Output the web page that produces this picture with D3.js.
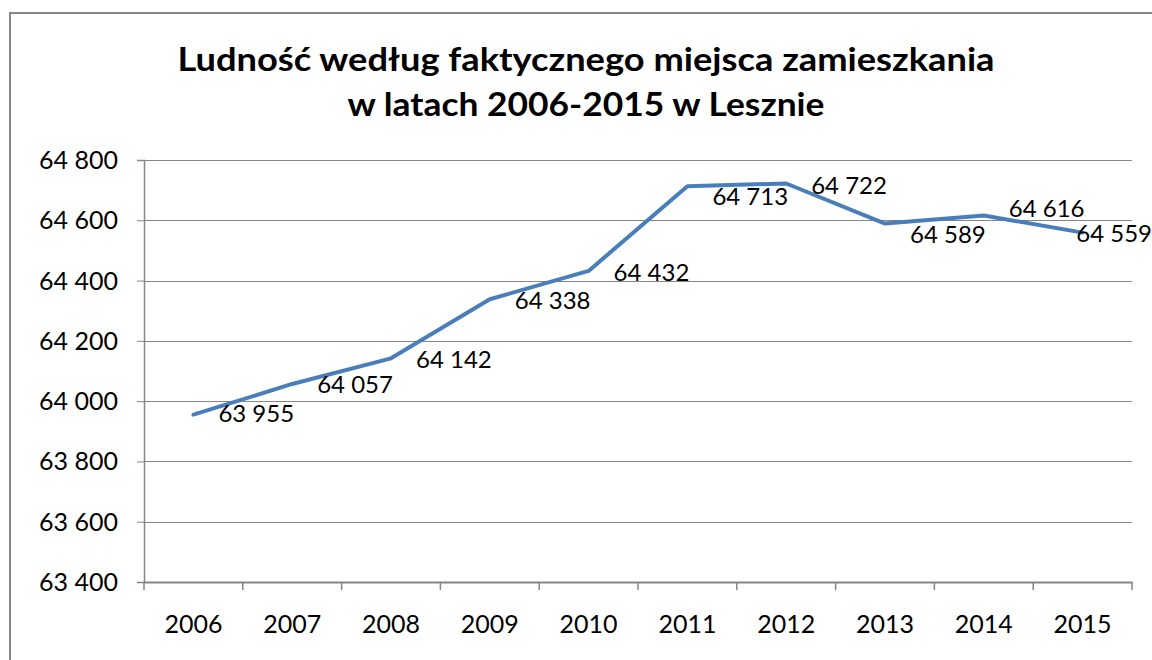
<!DOCTYPE html>
<html>
<head>
<meta charset="utf-8">
<script src="https://cdn.jsdelivr.net/npm/d3@7/dist/d3.min.js"></script>
<style>
  html, body { margin: 0; padding: 0; background: #fff; }
  svg { display: block; }
</style>
</head>
<body>
<svg id="chart" width="1152" height="660"></svg>
<script>
// ---- data ----
const years = ["2006","2007","2008","2009","2010","2011","2012","2013","2014","2015"];
const population = [63955, 64057, 64142, 64338, 64432, 64713, 64722, 64589, 64616, 64559];
const yTicks = [63400, 63600, 63800, 64000, 64200, 64400, 64600, 64800];
const titleLines = ["Ludność według faktycznego miejsca zamieszkania", "w latach 2006-2015 w Lesznie"];

// ---- layout (not data) ----
const labelNudgeY = [-1, 0, 1, 1, 1, 10, 2, 11, -7, 1];
const W = 1152, H = 660;
const plot = { left: 144, right: 1132, top: 160, bottom: 582 };
const gridColor = "#868686";
const lineColor = "#4A7EBB";
const font = "Lato, 'Open Sans', sans-serif";

const svg = d3.select("#chart");
const loc = d3.formatLocale({ decimal: ",", thousands: " ", grouping: [3], currency: ["", " zł"] });
const fmt = loc.format(",d");

// outer chart border
svg.append("rect")
  .attr("x", 10).attr("y", 13)
  .attr("width", W + 20).attr("height", H + 20)
  .attr("fill", "#fff")
  .attr("stroke", gridColor).attr("stroke-width", 2);

// title
const title = svg.append("g").attr("font-family", font).attr("font-weight", 700)
  .attr("font-size", 32).attr("fill", "#000").attr("text-anchor", "middle");
title.selectAll("text").data(titleLines).join("text")
  .attr("x", 586)
  .attr("y", (d, i) => i === 0 ? 71 : 116)
  .text(d => d);
// match reference line widths
const targetW = [817, 477];
title.selectAll("text").each(function (d, i) {
  const w = this.getComputedTextLength();
  if (Math.abs(w - targetW[i]) > 4) {
    d3.select(this).attr("textLength", targetW[i]).attr("lengthAdjust", "spacingAndGlyphs");
  }
});

// scales
const x = d3.scaleBand().domain(years).range([plot.left, plot.right]).padding(0);
const y = d3.scaleLinear().domain([63400, 64800]).range([plot.bottom, plot.top]);

// gridlines
svg.append("g")
  .selectAll("line").data(yTicks.filter(t => t !== 63400)).join("line")
  .attr("x1", plot.left).attr("x2", plot.right)
  .attr("y1", d => Math.round(y(d)) + 0.5).attr("y2", d => Math.round(y(d)) + 0.5)
  .attr("stroke", gridColor).attr("stroke-width", 1);

// y axis
const yAxis = svg.append("g")
  .attr("transform", `translate(${plot.left},0)`)
  .call(d3.axisLeft(y).tickValues(yTicks).tickFormat(fmt).tickSize(7).tickPadding(19));
yAxis.select(".domain").attr("stroke", gridColor).attr("stroke-width", 1.5);
yAxis.selectAll(".tick line").attr("stroke", gridColor).attr("stroke-width", 1);
yAxis.selectAll(".tick text")
  .attr("font-family", font).attr("font-size", 25).attr("fill", "#000").attr("dy", "0.34em");

// x axis
const xAxis = svg.append("g")
  .attr("transform", `translate(0,${plot.bottom})`)
  .call(d3.axisBottom(x).tickSize(0).tickPadding(0));
xAxis.select(".domain").attr("stroke", gridColor).attr("stroke-width", 2);
xAxis.selectAll(".tick text")
  .attr("font-family", font).attr("font-size", 25).attr("fill", "#000")
  .attr("y", 51).attr("dy", null);
// tick marks at category boundaries
const bounds = years.map(d => x(d)).concat([x(years[years.length - 1]) + x.bandwidth()]);
xAxis.append("g").selectAll("line").data(bounds).join("line")
  .attr("x1", d => d).attr("x2", d => d)
  .attr("y1", 0).attr("y2", 8)
  .attr("stroke", gridColor).attr("stroke-width", 1.5);

// line
const pts = years.map((d, i) => ({ year: d, value: population[i], i }));
const cx = d => x(d.year) + x.bandwidth() / 2;
svg.append("path")
  .datum(pts)
  .attr("fill", "none")
  .attr("stroke", lineColor)
  .attr("stroke-width", 4)
  .attr("stroke-linejoin", "round")
  .attr("stroke-linecap", "round")
  .attr("d", d3.line().x(cx).y(d => y(d.value)));

// data labels
svg.append("g").attr("font-family", font).attr("font-size", 24).attr("fill", "#000")
  .selectAll("text").data(pts).join("text")
  .attr("x", d => cx(d) + 25)
  .attr("y", d => y(d.value) + labelNudgeY[d.i])
  .attr("dy", "0.36em")
  .text(d => fmt(d.value))
  .each(function () {
    const w = this.getComputedTextLength();
    const xx = +this.getAttribute("x");
    if (xx + w > W) this.setAttribute("x", W - w);
  });
</script>
</body>
</html>
